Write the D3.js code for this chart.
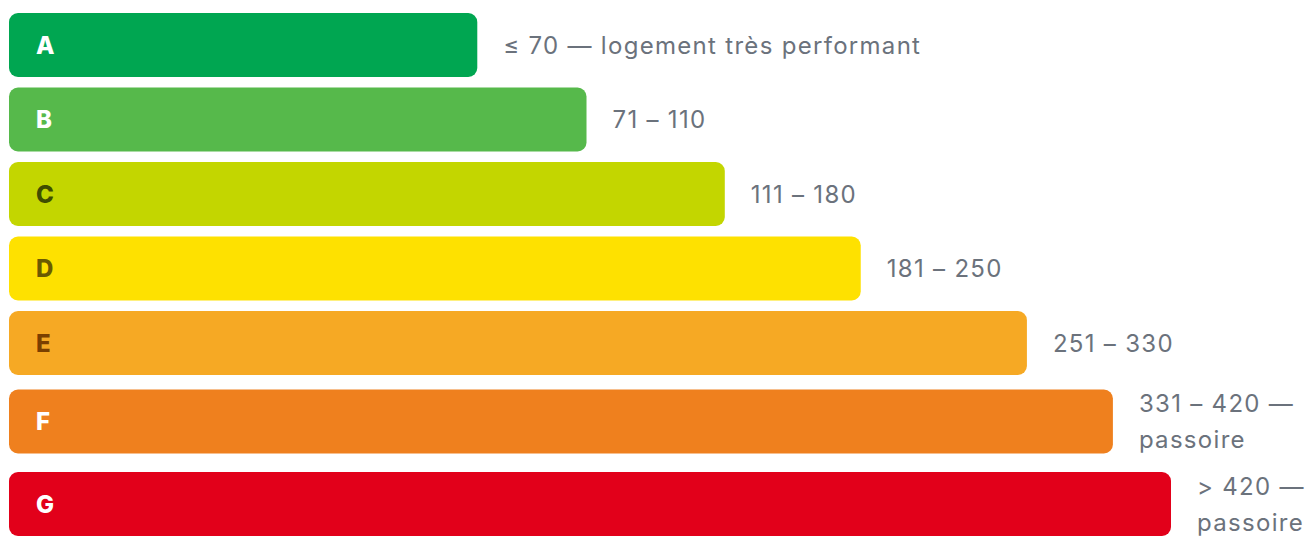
<!DOCTYPE html>
<html lang="fr">
<head>
<meta charset="utf-8">
<title>DPE classes</title>
<script src="https://d3js.org/d3.v7.min.js"></script>
<style>
  body { margin: 0; background: #fff; }
  text { font-family: Inter, "Open Sans", sans-serif; }
</style>
</head>
<body>
<svg id="chart" width="1310" height="536"></svg>
<script>
// classes, bar lengths (percent of the longest) and range labels
var classes = ["A", "B", "C", "D", "E", "F", "G"]
var widths = [40.3, 49.7, 61.6, 73.3, 87.6, 95.0, 100]
var ranges = [
  ["≤ 70 — logement très performant"],
  ["71 – 110"],
  ["111 – 180"],
  ["181 – 250"],
  ["251 – 330"],
  ["331 – 420 —", "passoire"],
  ["> 420 —", "passoire"]
]
var fills = ["#00a651", "#56b94b", "#c3d600", "#fee100", "#f6a924", "#ef801e", "#e2001a"]
var inks = ["#ffffff", "#ffffff", "#3f4d00", "#6b5a00", "#7a3f00", "#ffffff", "#ffffff"]

var marginLeft = 9, marginTop = 13
var barH = 64, gap = 10.5, lineH = 36
var labelPad = 26

var x = d3.scaleLinear().domain([0, 100]).range([0, 1162])

// stack rows: a row is as tall as the bar or its label lines
var rows = []
var y0 = marginTop
classes.forEach(function (c, i) {
  var h = Math.max(barH, ranges[i].length * lineH)
  rows.push({ cls: c, w: widths[i], lines: ranges[i], fill: fills[i], ink: inks[i], y: y0, h: h })
  y0 += h + gap
})

var svg = d3.select("#chart")

var g = svg.selectAll("g.row")
  .data(rows)
  .enter()
  .append("g")
  .attr("class", "row")
  .attr("transform", d => "translate(" + marginLeft + "," + (d.y + d.h / 2) + ")")

g.append("rect")
  .attr("x", 0)
  .attr("y", -barH / 2)
  .attr("width", d => x(d.w))
  .attr("height", barH)
  .attr("rx", 9)
  .attr("fill", d => d.fill)

g.append("text")
  .attr("x", 27)
  .attr("y", 0)
  .attr("dy", "0.36em")
  .attr("fill", d => d.ink)
  .style("font-size", "24px")
  .style("font-weight", 800)
  .text(d => d.cls)

var lab = g.append("text")
  .attr("x", d => x(d.w) + labelPad)
  .attr("fill", "#6b727c")
  .style("font-size", "24px")
  .style("letter-spacing", "1.3px")

lab.selectAll("tspan")
  .data(d => d.lines.map((t, j) => ({ t: t, j: j, n: d.lines.length })))
  .enter()
  .append("tspan")
  .attr("x", function () { return this.parentNode.getAttribute("x") })
  .attr("y", d => (d.j - (d.n - 1) / 2) * lineH)
  .attr("dy", "0.36em")
  .text(d => d.t)
</script>
</body>
</html>
